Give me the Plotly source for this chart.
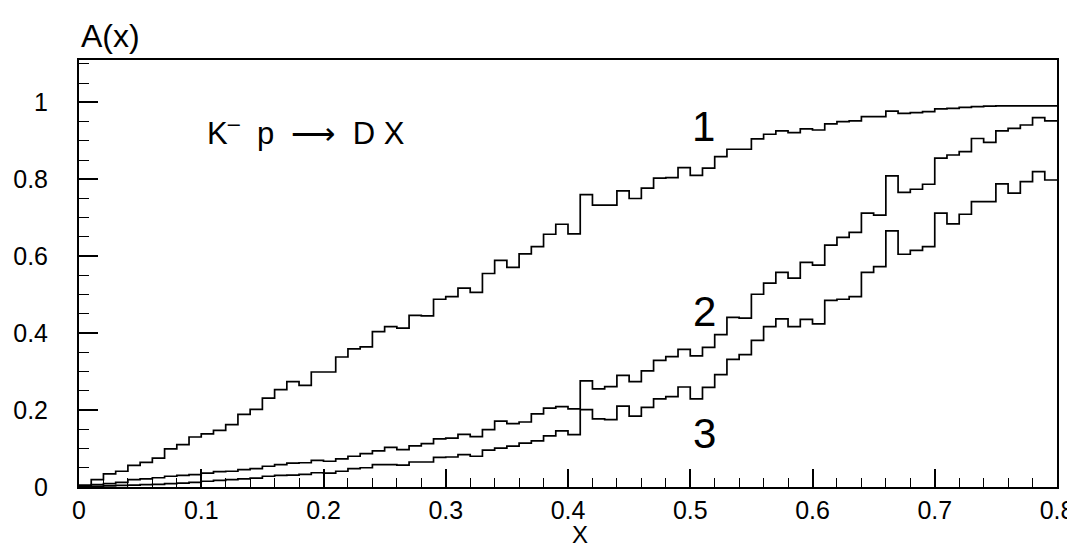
import numpy as np
import plotly.graph_objects as go

# Histogram bin contents (bin width 0.01, from x = 0 to 0.8)
bin_width = 0.01
curve1 = [0.005, 0.019, 0.034, 0.041, 0.056, 0.064, 0.075, 0.099, 0.110, 0.130,
          0.138, 0.147, 0.162, 0.189, 0.202, 0.231, 0.253, 0.274, 0.264, 0.299,
          0.299, 0.338, 0.359, 0.364, 0.404, 0.417, 0.413, 0.446, 0.445, 0.488,
          0.495, 0.517, 0.506, 0.555, 0.589, 0.571, 0.606, 0.625, 0.657, 0.683,
          0.658, 0.760, 0.733, 0.733, 0.770, 0.750, 0.777, 0.803, 0.804, 0.830,
          0.810, 0.829, 0.859, 0.878, 0.878, 0.905, 0.917, 0.926, 0.921, 0.931,
          0.928, 0.944, 0.950, 0.952, 0.963, 0.963, 0.977, 0.971, 0.973, 0.976,
          0.983, 0.984, 0.987, 0.989, 0.990, 0.991, 0.991, 0.991, 0.991, 0.991]
curve2 = [0.002, 0.006, 0.009, 0.012, 0.019, 0.021, 0.024, 0.028, 0.030, 0.032,
          0.036, 0.040, 0.041, 0.045, 0.048, 0.054, 0.058, 0.062, 0.063, 0.069,
          0.067, 0.073, 0.080, 0.087, 0.094, 0.103, 0.097, 0.107, 0.113, 0.125,
          0.127, 0.137, 0.131, 0.149, 0.171, 0.165, 0.169, 0.190, 0.205, 0.209,
          0.203, 0.276, 0.255, 0.261, 0.290, 0.274, 0.302, 0.329, 0.339, 0.358,
          0.341, 0.363, 0.396, 0.441, 0.439, 0.501, 0.530, 0.558, 0.543, 0.584,
          0.577, 0.629, 0.649, 0.662, 0.712, 0.707, 0.809, 0.766, 0.774, 0.787,
          0.855, 0.863, 0.872, 0.906, 0.896, 0.926, 0.932, 0.941, 0.960, 0.952]
curve3 = [0.001, 0.002, 0.003, 0.004, 0.005, 0.006, 0.007, 0.009, 0.010, 0.012,
          0.015, 0.017, 0.019, 0.021, 0.023, 0.028, 0.030, 0.031, 0.033, 0.037,
          0.036, 0.041, 0.048, 0.050, 0.058, 0.058, 0.057, 0.065, 0.065, 0.077,
          0.078, 0.084, 0.080, 0.096, 0.101, 0.106, 0.114, 0.120, 0.133, 0.146,
          0.136, 0.201, 0.177, 0.175, 0.210, 0.184, 0.207, 0.229, 0.235, 0.260,
          0.229, 0.259, 0.292, 0.332, 0.344, 0.381, 0.417, 0.437, 0.417, 0.436,
          0.424, 0.485, 0.488, 0.495, 0.558, 0.573, 0.666, 0.605, 0.615, 0.625,
          0.712, 0.684, 0.709, 0.742, 0.742, 0.788, 0.764, 0.794, 0.820, 0.798]

curve_labels = ["1", "2", "3"]
x_tick_vals = [0, 0.1, 0.2, 0.3, 0.4, 0.5, 0.6, 0.7, 0.8]
x_tick_text = ["0", "0.1", "0.2", "0.3", "0.4", "0.5", "0.6", "0.7", "0.8"]
y_tick_vals = [0, 0.2, 0.4, 0.6, 0.8, 1.0]
y_tick_text = ["0", "0.2", "0.4", "0.6", "0.8", "1"]

FONT = "Liberation Sans, Arial, sans-serif"

fig = go.Figure()
for vals in (curve1, curve2, curve3):
    n = len(vals)
    edges = np.arange(n + 1) * bin_width
    xs = np.concatenate([[0.0], edges])
    ys = np.concatenate([[0.0], vals, [vals[-1]]])
    fig.add_trace(go.Scatter(x=xs, y=ys, mode="lines", line_shape="hv",
                             line=dict(color="black", width=1.7),
                             showlegend=False, hoverinfo="skip"))

fig.update_layout(
    width=1075, height=550,
    margin=dict(l=71, r=26, t=52, b=71, autoexpand=False),
    paper_bgcolor="white", plot_bgcolor="white",
    font=dict(family=FONT, color="black"),
    xaxis=dict(range=[0, 0.8], showgrid=False, zeroline=False, automargin=False,
               showline=True, linecolor="black", linewidth=2, mirror=True,
               tickvals=x_tick_vals, ticktext=x_tick_text,
               ticks="inside", ticklen=18, tickwidth=1.5, tickcolor="black",
               minor=dict(dtick=0.02, ticks="inside", ticklen=9, tickwidth=1.2,
                          tickcolor="black", showgrid=False),
               tickfont=dict(size=25, family=FONT), ticklabelstandoff=0),
    yaxis=dict(range=[0, 1.11], showgrid=False, zeroline=False, automargin=False,
               showline=True, linecolor="black", linewidth=2, mirror=True,
               tickvals=y_tick_vals, ticktext=y_tick_text,
               ticks="inside", ticklen=19, tickwidth=1.5, tickcolor="black",
               minor=dict(dtick=0.05, ticks="inside", ticklen=10, tickwidth=1.2,
                          tickcolor="black", showgrid=False),
               tickfont=dict(size=25, family=FONT), ticklabelstandoff=24),
)

fig.add_annotation(text="A(x)", xref="paper", yref="paper", x=0, y=1,
                   xanchor="left", yanchor="middle", yshift=24, showarrow=False,
                   font=dict(size=32, family=FONT))
fig.add_annotation(text="X", xref="x", yref="paper", x=0.41, y=0,
                   xanchor="center", yanchor="middle", yshift=-47, showarrow=False,
                   font=dict(size=24, family=FONT))
fig.add_annotation(text="K<sup>\u2013</sup>\u00a0\u00a0p\u00a0\u00a0\u27f6\u00a0\u00a0D\u00a0X",
                   xref="x", yref="y", x=0.103, y=0.925,
                   xanchor="left", yanchor="middle", showarrow=False,
                   font=dict(size=31, family=FONT))
label_pos = [(0.511, 0.938), (0.512, 0.455), (0.512, 0.138)]
for lab, (lx, ly) in zip(curve_labels, label_pos):
    fig.add_annotation(text=lab, xref="x", yref="y", x=lx, y=ly,
                       xanchor="center", yanchor="middle", showarrow=False,
                       font=dict(size=42, family=FONT))

fig.write_html("out.html")
